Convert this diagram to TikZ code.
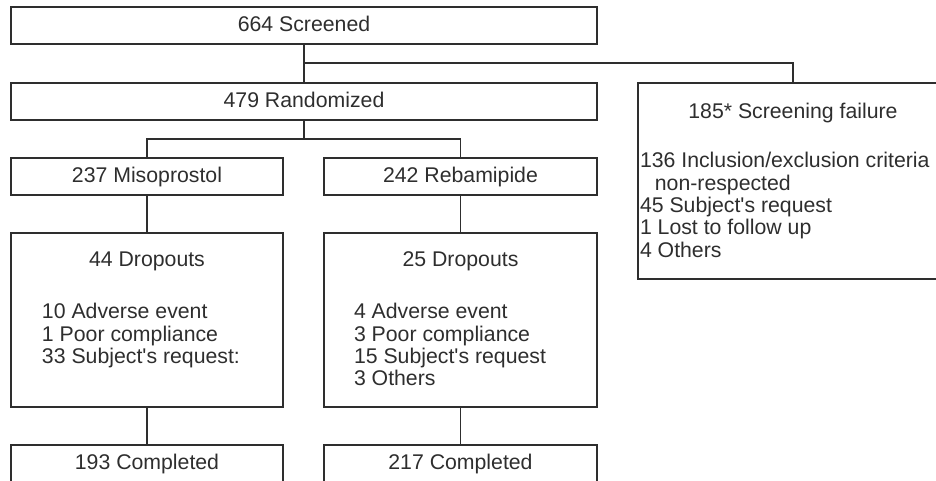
\documentclass[tikz,border=0pt]{standalone}
\usepackage{fontspec}
\setmainfont{Liberation Sans}
\usetikzlibrary{calc}
\definecolor{ink}{gray}{0.18}

\begin{document}
\begin{tikzpicture}[line width=0.8pt, color=ink,
  font=\fontsize{12.1}{12.7}\selectfont,
  flowbox/.style={draw, minimum height=0.74cm, inner sep=0pt,
    text height=0.716em, text depth=0pt},
  txt/.style={inner sep=0pt, align=left, anchor=north west}]
  \useasboundingbox (0,0) rectangle (18.72,-9.6);
  \clip (0,0) rectangle (18.72,-9.6);
  % boxes
  \node[flowbox, minimum width=11.72cm] (scr) at (6.08,-0.51) {664 Screened};
  \node[flowbox, minimum width=11.72cm] (rand) at (6.08,-2.03) {479 Randomized};
  \node[flowbox, minimum width=6.2cm, minimum height=3.92cm] (fail) at (15.86,-3.62) {};
  \node[flowbox, minimum width=5.44cm] (miso) at (2.94,-3.53) {237 Misoprostol};
  \node[flowbox, minimum width=5.46cm] (reba) at (9.21,-3.53) {242 Rebamipide};
  \node[flowbox, minimum width=5.44cm, minimum height=3.48cm] (dropM) at (2.94,-6.40) {};
  \node[flowbox, minimum width=5.46cm, minimum height=3.48cm] (dropR) at (9.21,-6.40) {};
  \node[flowbox, minimum width=5.44cm] (compM) at (2.94,-9.27) {193 Completed};
  \node[flowbox, minimum width=5.46cm] (compR) at (9.21,-9.27) {217 Completed};
  % texts in the large boxes
  \node[anchor=base] (failt) at ($(fail.north)+(0,-0.73)$) {185* Screening failure};
  \node[txt] (faill) at ($(fail.north west)+(0.04,-1.39)$)
    {136 Inclusion/exclusion criteria\\\hspace*{0.7em}non-respected\\45 Subject\textquotesingle s request\\1 Lost to follow up\\4 Others};
  \node[anchor=base] (dropMt) at ($(dropM.north)+(0,-0.69)$) {44 Dropouts};
  \node[txt] (dropMl) at ($(dropM.north west)+(0.62,-1.41)$)
    {10 Adverse event\\1 Poor compliance\\33 Subject\textquotesingle s request:};
  \node[anchor=base] (dropRt) at ($(dropR.north)+(0,-0.69)$) {25 Dropouts};
  \node[txt] (dropRl) at ($(dropR.north west)+(0.6,-1.41)$)
    {4 Adverse event\\3 Poor compliance\\15 Subject\textquotesingle s request\\3 Others};
  % connectors
  \coordinate (s1) at (6.08,-1.26);
  \coordinate (s2) at (6.08,-2.78);
  \draw (scr) -- (s1) -| (fail.north);
  \draw (s1) -- (rand);
  \draw (rand) -- (s2);
  \draw (miso.north) |- (s2) -| (reba.north);
  \draw (miso) -- (dropM);
  \draw (reba) -- (dropR);
  \draw (dropM) -- (compM);
  \draw (dropR) -- (compR);
\end{tikzpicture}
\end{document}
